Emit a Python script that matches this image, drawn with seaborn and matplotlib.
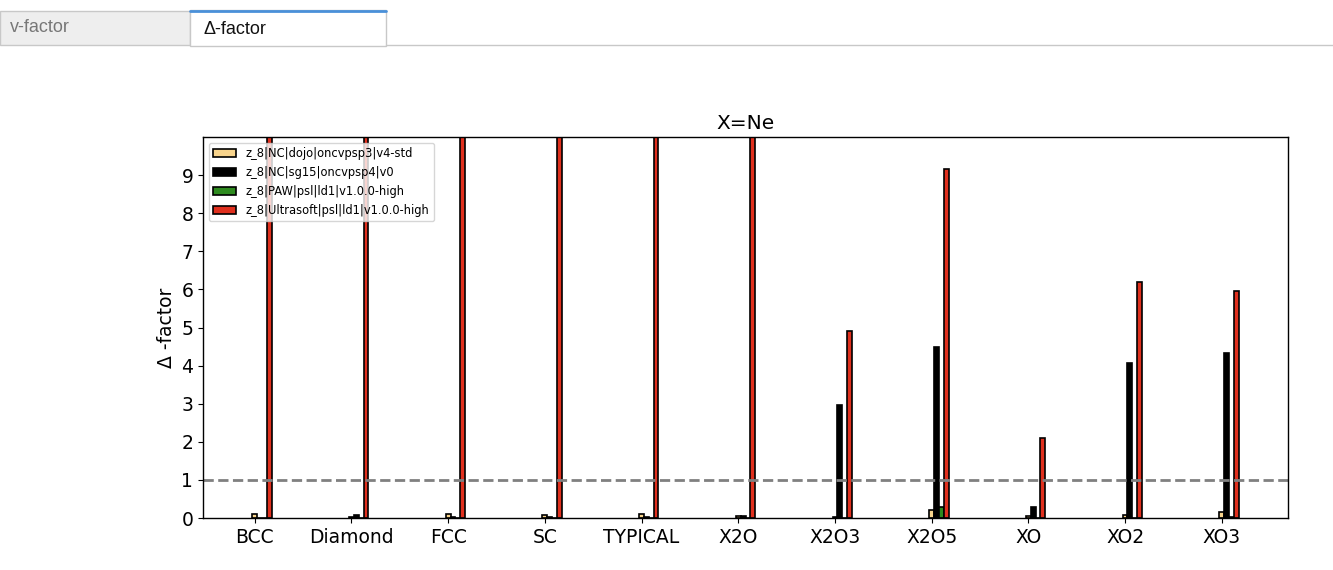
import matplotlib
matplotlib.use("Agg")
import matplotlib.pyplot as plt
import seaborn as sns
import pandas as pd
import numpy as np
from matplotlib.patches import Rectangle
from matplotlib.lines import Line2D

categories = ["BCC", "Diamond", "FCC", "SC", "TYPICAL", "X2O", "X2O3", "X2O5", "XO", "XO2", "XO3"]
series = ["z_8|NC|dojo|oncvpsp3|v4-std",
          "z_8|NC|sg15|oncvpsp4|v0",
          "z_8|PAW|psl|ld1|v1.0.0-high",
          "z_8|Ultrasoft|psl|ld1|v1.0.0-high"]
dojo = [0.10, 0.02, 0.10, 0.08, 0.10, 0.05, 0.02, 0.20, 0.05, 0.07, 0.17]
sg15 = [0.01, 0.07, 0.02, 0.03, 0.02, 0.06, 2.97, 4.50, 0.30, 4.07, 4.32]
paw = [0.01, 0.01, 0.01, 0.01, 0.01, 0.01, 0.01, 0.30, 0.01, 0.01, 0.03]
us = [15.0, 15.0, 15.0, 15.0, 15.0, 15.0, 4.90, 9.15, 2.10, 6.20, 5.95]
colors = ["#f8d48c", "#000000", "#2e8b1f", "#e0301e"]

rows = []
for s, vals in zip(series, [dojo, sg15, paw, us]):
    for i, v in enumerate(vals):
        rows.append({"pos": i, "series": s, "value": v})
df = pd.DataFrame(rows)

sns.set_style("ticks", rc={"text.color": "black", "axes.labelcolor": "black",
                           "xtick.color": "black", "ytick.color": "black",
                           "axes.edgecolor": "black"})
plt.rcParams["font.family"] = ["DejaVu Sans"]

fig = plt.figure(figsize=(13.33, 5.70), dpi=100)
fig.patch.set_facecolor("white")

# tabs
fig.patches.append(Rectangle((0, 1 - 45 / 570), 190 / 1333, 34 / 570, transform=fig.transFigure,
                             facecolor="#eeeeee", edgecolor="#c8c8c8", lw=1))
fig.patches.append(Rectangle((190 / 1333, 1 - 46 / 570), 196 / 1333, 36 / 570, transform=fig.transFigure,
                             facecolor="white", edgecolor="#c8c8c8", lw=1))
fig.lines.append(Line2D([190 / 1333, 386 / 1333], [1 - 11 / 570, 1 - 11 / 570], transform=fig.transFigure,
                        color="#4a90d9", lw=2))
fig.lines.append(Line2D([386 / 1333, 1], [1 - 45 / 570, 1 - 45 / 570], transform=fig.transFigure,
                        color="#c8c8c8", lw=1))
fig.text(10 / 1333, 1 - 28 / 570, "v-factor", color="#777777", fontsize=13, va="center", ha="left",
         family="Liberation Sans")
fig.text(204 / 1333, 1 - 29 / 570, "Δ-factor", color="#111111", fontsize=13, va="center", ha="left",
         family="Liberation Sans")

ax = fig.add_axes([203 / 1333, 1 - 518 / 570, 1085 / 1333, 381 / 570])
sns.barplot(data=df, x="pos", y="value", hue="series", hue_order=series, palette=colors,
            native_scale=True, width=0.2, dodge=True, edgecolor="black", linewidth=1.2,
            saturation=1, errorbar=None, ax=ax)
for p in ax.patches:
    p.set_x(p.get_x() + 0.075)

ax.axhline(1, color="gray", ls="--", lw=2)
ax.set_xticks(np.arange(len(categories)))
ax.set_xticklabels(categories)
ax.set_xlim(-0.535, len(categories) - 1 + 0.685)
ax.set_ylim(0, 10)
ax.set_yticks(range(10))
ax.tick_params(labelsize=13.5)
ax.set_xlabel("")
ax.set_ylabel("Δ -factor", fontsize=13.5)
ax.set_title("X=Ne", fontsize=14.5)
for sp in ax.spines.values():
    sp.set_visible(True)
    sp.set_color("black")
    sp.set_linewidth(1)

ax.legend(loc="upper left", fontsize=8.3, title=None, frameon=True)

fig.savefig("out.png", dpi=100)
